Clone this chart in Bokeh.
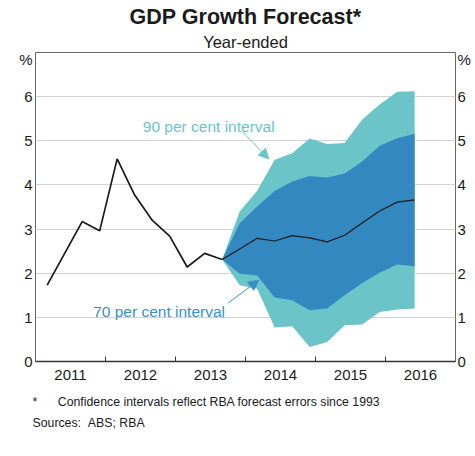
from bokeh.plotting import figure
from bokeh.models import Range1d, FixedTicker, LinearAxis, Label, Arrow, NormalHead, Title
from bokeh.embed import file_html
from bokeh.resources import INLINE

# ---------------- data ----------------
hist_dates = ["2011-03", "2011-06", "2011-09", "2011-12", "2012-03", "2012-06",
              "2012-09", "2012-12", "2013-03", "2013-06", "2013-09"]
gdp_actual = [1.73, 2.45, 3.17, 2.96, 4.59, 3.77, 3.20, 2.84, 2.14, 2.45, 2.31]

fc_dates = ["2013-09", "2013-12", "2014-03", "2014-06", "2014-09", "2014-12",
            "2015-03", "2015-06", "2015-09", "2015-12", "2016-03", "2016-06"]
gdp_forecast = [2.31, 2.55, 2.79, 2.73, 2.85, 2.80, 2.71, 2.86, 3.14, 3.41, 3.61, 3.66]
upper_70 = [2.31, 3.13, 3.51, 3.86, 4.08, 4.20, 4.17, 4.26, 4.53, 4.89, 5.06, 5.16]
lower_70 = [2.31, 1.99, 1.95, 1.45, 1.39, 1.16, 1.20, 1.50, 1.78, 2.01, 2.20, 2.16]
upper_90 = [2.31, 3.40, 3.87, 4.57, 4.72, 5.05, 4.93, 4.95, 5.48, 5.82, 6.11, 6.12]
lower_90 = [2.31, 1.73, 1.65, 0.77, 0.80, 0.33, 0.44, 0.82, 0.84, 1.12, 1.18, 1.20]

year_labels = ["2011", "2012", "2013", "2014", "2015", "2016"]
y_ticks = [0, 1, 2, 3, 4, 5, 6]
unit_label = "%"


def to_dec(s):
    y, m = s.split("-")
    return int(y) + (int(m) - 1) / 12.0


hx = [to_dec(d) for d in hist_dates]
fx = [to_dec(d) for d in fc_dates]
years = [int(y) for y in year_labels]

# ---------------- style ----------------
FONT = "Liberation Sans"
TEAL = "#6BC4C8"
BLUE = "#3389BF"
BLUE_TXT = "#3A8FC8"
TEAL_TXT = "#6AC4C8"
TXT = "#1a1a1a"
NB = "\u00a0"

p = figure(width=475, height=442, output_backend="svg", toolbar_location=None,
           x_range=Range1d(years[0], years[-1] + 1), y_range=Range1d(0, 7),
           min_border_left=35, min_border_right=20, min_border_top=52,
           min_border_bottom=81, background_fill_color="white",
           border_fill_color="white", outline_line_color="#666666",
           outline_line_width=1, title=None)

# axes
p.xaxis.ticker = FixedTicker(ticks=[y + 0.5 for y in years],
                             minor_ticks=years[1:])
p.xaxis.major_label_overrides = {y + 0.5: lab for y, lab in zip(years, year_labels)}
p.xaxis.major_tick_in = 0
p.xaxis.major_tick_out = 0
p.xaxis.minor_tick_in = 5
p.xaxis.minor_tick_out = 0
p.xaxis.minor_tick_line_color = "#333333"
p.xaxis.axis_line_color = "#333333"
p.xaxis.axis_line_width = 1.5
p.xaxis.major_label_text_font = FONT
p.xaxis.major_label_text_font_size = "15px"
p.xaxis.major_label_text_color = TXT
p.xaxis.major_label_standoff = 8

pct_pos = 6.84
ax_l = p.yaxis[0]
ax_r = LinearAxis()
p.add_layout(ax_r, "right")
for ax in (ax_l, ax_r):
    ax.ticker = FixedTicker(ticks=y_ticks + [pct_pos])
    ax.major_label_overrides = {pct_pos: unit_label}
    ax.major_tick_in = 0
    ax.major_tick_out = 0
    ax.minor_tick_line_color = None
    ax.axis_line_color = None
    ax.major_label_text_font = FONT
    ax.major_label_text_font_size = "15px"
    ax.major_label_text_color = TXT
ax_l.major_label_standoff = 3
ax_r.major_label_standoff = 2

p.xgrid.grid_line_color = None
p.ygrid.ticker = FixedTicker(ticks=y_ticks[1:])
p.ygrid.grid_line_color = "#d2d2d2"
p.ygrid.grid_line_width = 1

# bands and lines
p.varea(x=fx, y1=lower_90, y2=upper_90, fill_color=TEAL)
p.varea(x=fx, y1=lower_70, y2=upper_70, fill_color=BLUE)
p.line(hx, gdp_actual, line_color=TXT, line_width=1.7)
p.line(fx, gdp_forecast, line_color=TXT, line_width=1.2)

# annotations
p.add_layout(Label(x=2012.533, y=5.318, text="90 per cent interval",
                   text_font=FONT, text_font_size="15.5px", text_color=TEAL_TXT,
                   text_baseline="alphabetic"))
p.add_layout(Arrow(end=NormalHead(size=10, fill_color=TEAL_TXT, line_color=TEAL_TXT),
                   x_start=2013.953, y_start=5.21, x_end=2014.333, y_end=4.59,
                   line_color=TEAL_TXT, line_width=1))
p.add_layout(Label(x=2013.707, y=1.136, text="70 per cent interval",
                   text_font=FONT, text_font_size="15.5px", text_color=BLUE_TXT,
                   text_align="right", text_baseline="alphabetic"))
p.add_layout(Arrow(end=NormalHead(size=10, fill_color=BLUE_TXT, line_color=BLUE_TXT),
                   x_start=2013.753, y_start=1.325, x_end=2014.19, y_end=1.84,
                   line_color=BLUE_TXT, line_width=1))

# titles (first added = closest to the plot)
p.add_layout(Title(text="Year-ended", text_font=FONT, text_font_size="16.5px",
                   text_font_style="normal", text_color=TXT, align="center",
                   offset=-3, standoff=4), "above")
p.add_layout(Title(text="GDP Growth Forecast*", text_font=FONT,
                   text_font_size="21.5px", text_font_style="bold",
                   text_color=TXT, align="center", offset=2, standoff=0), "above")

# footnotes (two lines in one title)
footnote = "*" + NB * 6 + "Confidence intervals reflect RBA forecast errors since 1993"
sources = "Sources:" + NB * 2 + "ABS; RBA"
p.add_layout(Title(text=footnote + "\n" + sources,
                   text_font=FONT, text_font_size="12.3px", text_font_style="normal",
                   text_color=TXT, align="left", offset=-3, standoff=20,
                   text_line_height=1.55), "below")

open("out.html", "w").write(file_html(p, INLINE))
